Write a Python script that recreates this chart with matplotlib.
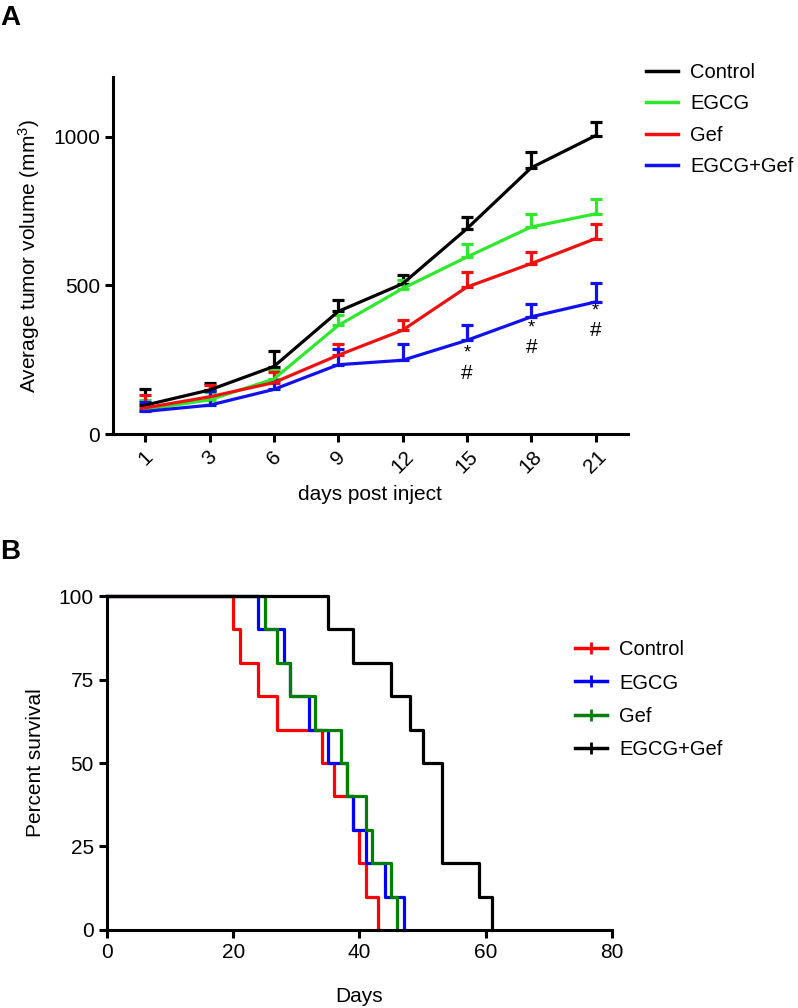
import matplotlib
matplotlib.use("Agg")
import matplotlib.pyplot as plt
from matplotlib.lines import Line2D

plt.rcParams['font.family'] = ['Liberation Sans', 'DejaVu Sans']
plt.rcParams['mathtext.default'] = 'regular'

# ---- Panel A data: tumor volume
days_a = ["1", "3", "6", "9", "12", "15", "18", "21"]
groups_a = ["Control", "EGCG", "Gef", "EGCG+Gef"]
colors_a = ["#000000", "#2ee82e", "#ee1111", "#1111ee"]
vol_control = [97, 148, 227, 412, 505, 690, 895, 1003]
vol_egcg = [82, 115, 185, 365, 489, 595, 696, 740]
vol_gef = [88, 125, 173, 265, 349, 494, 573, 657]
vol_combo = [76, 97, 150, 233, 248, 315, 394, 444]
err_control = [54, 24, 53, 38, 29, 39, 52, 45]
err_egcg = [32, 25, 30, 35, 28, 45, 44, 51]
err_gef = [43, 40, 37, 37, 34, 51, 39, 50]
err_combo = [33, 48, 30, 52, 56, 51, 44, 62]

# significance marks under EGCG+Gef
sig_idx = [5, 6, 7]
star_y = [272, 355, 413]
hash_y = [205, 292, 349]

# ---- Panel B data: survival (days, percent)
groups_b = ["Control", "EGCG", "Gef", "EGCG+Gef"]
colors_b = ["#ff0000", "#0000ff", "#008000", "#000000"]
surv_pct = [100, 90, 80, 70, 60, 50, 40, 30, 20, 10, 0]
days_control = [0, 20, 21, 24, 27, 34, 36, 39, 40, 41, 43]
days_egcg = [0, 24, 28, 29, 32, 35, 38, 39, 41, 44, 47]
days_gef = [0, 25, 27, 29, 33, 37, 38, 41, 42, 45, 46]
days_combo = [0, 35, 39, 45, 48, 50, 53, 53, 53, 59, 61]

fig = plt.figure(figsize=(7.98, 10.08), dpi=100)

# ===== A =====
ax = fig.add_axes([0.1416, 0.5694, 0.645, 0.3542])
x = list(range(len(days_a)))
vols = [vol_control, vol_egcg, vol_gef, vol_combo]
errs = [err_control, err_egcg, err_gef, err_combo]
for v, e, c in zip(vols, errs, colors_a):
    ax.errorbar(x, v, yerr=[[0] * len(e), e], color=c, lw=2.3,
                elinewidth=2.3, capsize=4, capthick=2.3)
for i, sy, hy in zip(sig_idx, star_y, hash_y):
    ax.text(i, sy, "*", ha="center", va="center", fontsize=13)
    ax.text(i, hy, "#", ha="center", va="center", fontsize=15)

ax.set_xlim(-0.5, 7.5)
ax.set_ylim(0, 1200)
ax.set_yticks([0, 500, 1000])
ax.set_xticks(x)
ax.set_xticklabels(days_a, rotation=45, ha="center", va="top")
ax.set_xlabel("days post inject", fontsize=15, labelpad=6)
ax.set_ylabel("Average tumor volume (mm$^3$)", fontsize=15, labelpad=8)
for s in ["top", "right"]:
    ax.spines[s].set_visible(False)
for s in ["left", "bottom"]:
    ax.spines[s].set_linewidth(2.2)
ax.tick_params(width=2.2, length=6, labelsize=15)

handles_a = [Line2D([], [], color=c, lw=2.5) for c in colors_a]
ax.legend(handles_a, groups_a, loc="upper left", bbox_to_anchor=(1.0, 1.09),
          frameon=False, fontsize=14.5, handlelength=1.6, handletextpad=0.6,
          labelspacing=0.62)

fig.text(0.0, 0.995, "A", fontsize=20, fontweight="bold", va="top")

# ===== B =====
bx = fig.add_axes([0.134, 0.0774, 0.633, 0.3313])
days_b = [days_control, days_egcg, days_gef, days_combo]
for d, c in zip(days_b, colors_b):
    bx.step(d, surv_pct, where="post", color=c, lw=2.3, clip_on=False)

bx.set_xlim(0, 80)
bx.set_ylim(0, 100)
bx.set_xticks([0, 20, 40, 60, 80])
bx.set_yticks([0, 25, 50, 75, 100])
bx.set_xlabel("Days", fontsize=15, labelpad=18)
bx.set_ylabel("Percent survival", fontsize=15, labelpad=10)
for s in ["top", "right"]:
    bx.spines[s].set_visible(False)
for s in ["left", "bottom"]:
    bx.spines[s].set_linewidth(2.2)
bx.tick_params(width=2.2, length=6, labelsize=15)

handles_b = [Line2D([], [], color=c, lw=2.5, marker="|", markersize=8,
                    markeredgewidth=2) for c in colors_b]
bx.legend(handles_b, groups_b, loc="center left", bbox_to_anchor=(0.89, 0.69),
          frameon=False, fontsize=14.5, handlelength=1.6, handletextpad=0.6,
          labelspacing=0.7)

fig.text(0.0, 0.465, "B", fontsize=20, fontweight="bold", va="top")

fig.savefig("out.png", dpi=100)
